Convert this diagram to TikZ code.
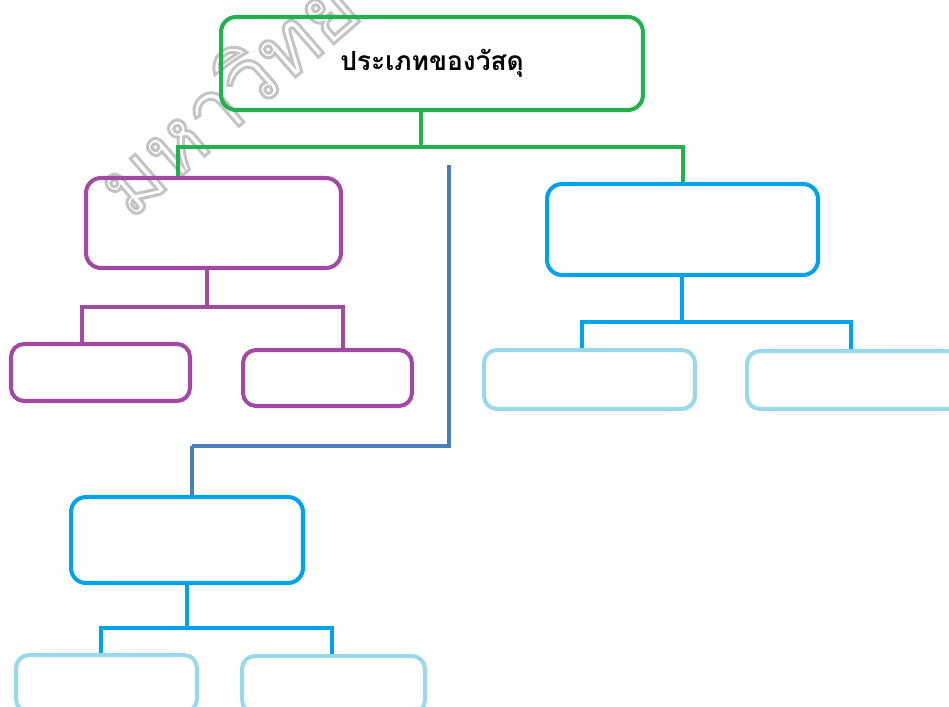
\documentclass[tikz,border=0pt]{standalone}
\usepackage{fontspec}
\newfontfamily\thaifont[Script=Thai]{Loma}
\definecolor{cgreen}{HTML}{22B14C}
\definecolor{cpurple}{HTML}{A349A4}
\definecolor{cblue}{HTML}{00A2E8}
\definecolor{clight}{HTML}{99D9EA}
\definecolor{csteel}{HTML}{4A7EBB}
\definecolor{cwater}{HTML}{C4C4C4}
\begin{document}
\begin{tikzpicture}[x=0.02cm,y=-0.02cm,
  box/.style={draw,line width=2.3pt,rounded corners=0.3cm,inner sep=0pt,fill=none},
  small/.style={draw,line width=2.3pt,rounded corners=0.26cm,inner sep=0pt},
  conn/.style={line width=2.2pt}]
\useasboundingbox (0,0) rectangle (949,706);
\begin{scope}
\clip (0,0) rectangle (949,706);
% watermark (outlined text)
\node[rotate=41,anchor=base west,inner sep=0pt,text=cwater,font=\thaifont\fontsize{48}{48}\selectfont] (wm) at (130,221) {\special{pdf:literal 1 Tr 1.7 w}มหาวิทยาลัย\special{pdf:literal 0 Tr}};
% nodes
\node[box,draw=cgreen,minimum width=8.44cm,minimum height=1.86cm,font=\thaifont\bfseries\fontsize{15}{18}\selectfont] (title) at (432,63.5) {ประเภทของวัสดุ};
\node[box,draw=cpurple,minimum width=5.10cm,minimum height=1.80cm] (purple) at (213.5,223) {};
\node[small,draw=cpurple,minimum width=3.58cm,minimum height=1.14cm] (p1) at (100.5,372.5) {};
\node[small,draw=cpurple,minimum width=3.38cm,minimum height=1.12cm] (p2) at (327.5,378) {};
\node[box,draw=cblue,minimum width=5.42cm,minimum height=1.82cm] (blueR) at (682.5,229.5) {};
\node[small,draw=clight,minimum width=4.22cm,minimum height=1.18cm] (r1) at (589.5,379.5) {};
\node[small,draw=clight,minimum width=4.26cm,minimum height=1.16cm] (r2) at (853.5,380) {};
\node[box,draw=cblue,minimum width=4.64cm,minimum height=1.72cm] (blueL) at (187,540) {};
\node[small,draw=clight,minimum width=3.62cm,minimum height=1.14cm] (l1) at (106.5,683.5) {};
\node[small,draw=clight,minimum width=3.66cm,minimum height=1.14cm] (l2) at (333.5,684.5) {};
% junction coordinates
\coordinate (gj) at (421,147);
\coordinate (gl) at (178,147);
\coordinate (gr) at (683,147);
\coordinate (pj) at (207,307);
\coordinate (pl) at (82,307);
\coordinate (pr) at (343,307);
\coordinate (rj) at (682,322);
\coordinate (rl) at (582,322);
\coordinate (rr) at (851,322);
\coordinate (lj) at (187,628);
\coordinate (ll) at (101,628);
\coordinate (lr) at (332,628);
\coordinate (bs) at (449,165);
\coordinate (bx) at (192,446);
% connectors
\draw[conn,cgreen] (title.south -| gj) -- (gj);
\draw[conn,cgreen] (purple.north -| gl) -- (gl) -- (gr) -- (blueR.north -| gr);
\draw[conn,cpurple] (purple.south -| pj) -- (pj);
\draw[conn,cpurple] (p1.north -| pl) -- (pl) -- (pr) -- (p2.north -| pr);
\draw[conn,cblue] (blueR.south -| rj) -- (rj);
\draw[conn,cblue] (r1.north -| rl) -- (rl) -- (rr) -- (r2.north -| rr);
\draw[conn,cblue] (blueL.south -| lj) -- (lj);
\draw[conn,cblue] (l1.north -| ll) -- (ll) -- (lr) -- (l2.north -| lr);
\draw[line width=1.9pt,csteel] (bs) |- (bx);
\draw[line width=2.8pt,csteel] (bx) -- (blueL.north -| bx);
\end{scope}
\end{tikzpicture}
\end{document}
